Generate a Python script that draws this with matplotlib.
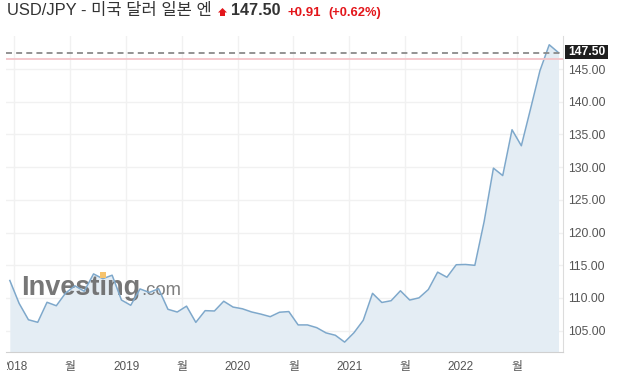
import matplotlib
matplotlib.use('Agg')
import matplotlib.pyplot as plt
import numpy as np
from matplotlib.patches import Polygon, Rectangle
from matplotlib.transforms import Bbox, TransformedBbox

plt.rcParams['font.family'] = ['Liberation Sans', 'Noto Sans CJK KR', 'DejaVu Sans']
plt.rcParams['lines.scale_dashes'] = False

# ---------------- data ----------------
months = ['2017-12',
          '2018-01', '2018-02', '2018-03', '2018-04', '2018-05', '2018-06',
          '2018-07', '2018-08', '2018-09', '2018-10', '2018-11', '2018-12',
          '2019-01', '2019-02', '2019-03', '2019-04', '2019-05', '2019-06',
          '2019-07', '2019-08', '2019-09', '2019-10', '2019-11', '2019-12',
          '2020-01', '2020-02', '2020-03', '2020-04', '2020-05', '2020-06',
          '2020-07', '2020-08', '2020-09', '2020-10', '2020-11', '2020-12',
          '2021-01', '2021-02', '2021-03', '2021-04', '2021-05', '2021-06',
          '2021-07', '2021-08', '2021-09', '2021-10', '2021-11', '2021-12',
          '2022-01', '2022-02', '2022-03', '2022-04', '2022-05', '2022-06',
          '2022-07', '2022-08', '2022-09', '2022-10', '2022-11']
closes = [112.67,
          109.17, 106.67, 106.28, 109.34, 108.81, 110.76,
          111.86, 111.03, 113.68, 112.94, 113.48, 109.69,
          108.88, 111.38, 110.85, 111.41, 108.27, 107.85,
          108.75, 106.27, 108.06, 108.01, 109.50, 108.61,
          108.35, 107.86, 107.53, 107.14, 107.82, 107.92,
          105.88, 105.88, 105.46, 104.66, 104.30, 103.25,
          104.68, 106.58, 110.71, 109.31, 109.58, 111.10,
          109.68, 110.02, 111.29, 113.95, 113.17, 115.08,
          115.12, 114.99, 121.68, 129.85, 128.71, 135.72,
          133.27, 138.96, 144.74, 148.71, 147.50]
xtick_pos = [2018.0, 2018.5, 2019.0, 2019.5, 2020.0, 2020.5, 2021.0, 2021.5, 2022.0, 2022.5]
xtick_labels = ['2018', '월', '2019', '월', '2020', '월', '2021', '월', '2022', '월']
ytick_vals = [105, 110, 115, 120, 125, 130, 135, 140, 145]
last_price = 147.50
prev_close = 146.59
title = 'USD/JPY - 미국 달러 일본 엔'
price_txt = '147.50'
change_txt = '+0.91'
change_pct_txt = '(+0.62%)'

# ---------------- figure ----------------
W, H = 631, 390
fig = plt.figure(figsize=(W / 100, H / 100), dpi=100)
fig.patch.set_facecolor('white')


def fx(px):
    return px / W


def fy(py):
    return 1 - py / H


ax = fig.add_axes([fx(6), fy(352), fx(563) - fx(6), fy(36) - fy(352)])
x = np.array([int(m[:4]) + (int(m[5:]) - 1 + 0.5) / 12 for m in months])
y = np.array(closes)

ax.set_xlim(2017.924, 2022.915)
ax.set_ylim(101.74, 150.05)

ax.fill_between(x, y, 101.74, color='#e4edf4', zorder=1, linewidth=0)
ax.plot(x, y, color='#7ea8cb', lw=1.1, zorder=3)

ax.axhline(prev_close, color='#f3c3c8', lw=1.3, zorder=4)
ax.axhline(last_price, color='#8a8a8a', lw=1.3, dashes=(4.3, 3.0), zorder=5)

ax.set_xticks(xtick_pos)
ax.set_xticklabels(xtick_labels)
ax.set_yticks(ytick_vals)
ax.set_yticklabels([f'{v:.2f}' for v in ytick_vals])
ax.yaxis.tick_right()
ax.tick_params(axis='y', length=0, pad=3.6, labelsize=8.7, labelcolor='#555555')
ax.tick_params(axis='x', length=0, pad=6.5, labelsize=8.5, labelcolor='#555555')
ax.grid(True, color='#f1f1f1', lw=1, zorder=0)
ax.set_axisbelow(True)
for s in ['left', 'top']:
    ax.spines[s].set_visible(False)
ax.spines['right'].set_color('#dcdcdc')
ax.spines['bottom'].set_color('#d0d0d0')

# clip the first x label at the left edge
clip = TransformedBbox(Bbox.from_extents(fx(6.5), 0, 1, 1), fig.transFigure)
first = ax.get_xticklabels()[0]
first.set_clip_box(clip)
first.set_clip_on(True)

# price box on right
fig.add_artist(Rectangle((fx(565), fy(59)), fx(608) - fx(565), fy(45) - fy(59),
                         transform=fig.transFigure, facecolor='#1e1e1e',
                         edgecolor='none'))
fig.text(fx(586.5), fy(52.3), price_txt, color='white', fontsize=8.7,
         fontweight='bold', ha='center', va='center')

# ---------------- header ----------------
fig.text(fx(7), fy(15), title, color='#333333', fontsize=11.9, va='baseline')
fig.add_artist(Polygon([(fx(218), fy(12.5)), (fx(222.5), fy(8)), (fx(227), fy(12.5)),
                        (fx(225), fy(12.5)), (fx(225), fy(16)), (fx(220), fy(16)),
                        (fx(220), fy(12.5))], closed=True, transform=fig.transFigure,
                       facecolor='#e3161b', edgecolor='none'))
fig.text(fx(231.5), fy(15), price_txt, color='#333333', fontsize=11.6,
         fontweight='bold', va='baseline')
fig.text(fx(287), fy(16), change_txt, color='#e3161b', fontsize=9.5,
         fontweight='bold', va='baseline')
fig.text(fx(328), fy(16), change_pct_txt, color='#e3161b', fontsize=9.3,
         fontweight='bold', va='baseline')

# ---------------- watermark ----------------
renderer = fig.canvas.get_renderer()
wm_kw = dict(family='Liberation Sans', fontweight='bold', fontsize=19.5)
t1 = ax.text(fx(21), fy(295), 'Investıng', color='#6b6b6b', transform=fig.transFigure,
             va='baseline', zorder=2, alpha=0.92, clip_on=False, **wm_kw)
tmp = ax.text(fx(21), fy(295), 'Invest', transform=fig.transFigure, va='baseline',
              alpha=0, **wm_kw)
tmp_i = ax.text(fx(21), fy(295), 'Investı', transform=fig.transFigure, va='baseline',
                alpha=0, **wm_kw)
e1 = t1.get_window_extent(renderer)
ep = tmp.get_window_extent(renderer)
ei = tmp_i.get_window_extent(renderer)
tmp.remove()
tmp_i.remove()
ax.text(e1.x1 / W + 0.001, fy(295), '.com', color='#7e7e7e', transform=fig.transFigure,
        va='baseline', zorder=2, fontsize=13.3, clip_on=False)
icx = (ep.x1 + ei.x1) / 2
fig.add_artist(Rectangle((icx / W - fx(3), fy(277.5)), fx(6), fy(272) - fy(277.5),
                         transform=fig.transFigure, facecolor='#f6c36d',
                         edgecolor='none', zorder=2.5))

fig.savefig('out.png', dpi=100, facecolor='white')
